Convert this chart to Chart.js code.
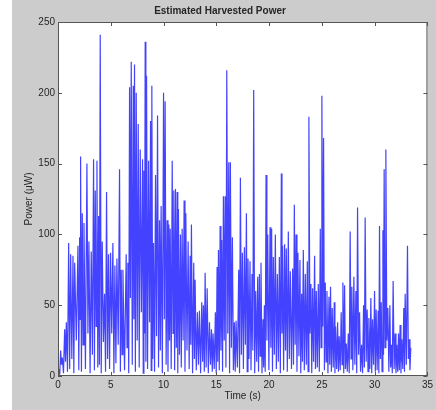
<!DOCTYPE html>
<html>
<head>
<meta charset="utf-8">
<script src="https://cdn.jsdelivr.net/npm/chart.js@4.4.1/dist/chart.umd.min.js"></script>
<style>
  html, body { margin: 0; padding: 0; background: #ffffff; }
  #wrap { width: 436px; height: 410px; }
</style>
</head>
<body>
<div id="wrap"><canvas id="chart" width="436" height="410"></canvas></div>
<script>
// peaks of the harvested power trace (time in s, power in uW)
const peakTimes = [
  0.09, 0.25, 0.41, 0.63, 0.79, 1.01, 1.20, 1.42, 1.58, 1.89,
  2.05, 2.14, 2.30, 2.46, 2.74, 2.93, 3.15, 3.37, 3.53, 3.69,
  3.85, 4.00, 4.19, 4.41, 4.60, 4.79, 4.98, 5.20, 5.39, 5.58,
  5.83, 5.99, 6.15, 6.46, 6.62, 6.78, 6.94, 7.13, 7.25, 7.41,
  7.60, 7.79, 8.01, 8.14, 8.26, 8.39, 8.58, 8.77, 8.89, 9.05,
  9.24, 9.43, 9.62, 9.77, 10.00, 10.15, 10.34, 10.50, 10.63, 10.82,
  10.97, 11.13, 11.29, 11.41, 11.60, 11.76, 11.95, 12.11, 12.33, 12.52,
  12.64, 12.86, 12.99, 13.21, 13.40, 13.62, 13.78, 13.94, 14.13, 14.35,
  14.54, 14.69, 14.91, 15.07, 15.20, 15.36, 15.51, 15.67, 15.83, 15.99,
  16.18, 16.33, 16.52, 16.71, 16.87, 17.12, 17.28, 17.47, 17.66, 17.85,
  18.00, 18.19, 18.38, 18.54, 18.73, 18.92, 19.08, 19.23, 19.42, 19.55,
  19.71, 19.87, 20.09, 20.24, 20.40, 20.59, 20.78, 20.97, 21.16, 21.28,
  21.47, 21.63, 21.82, 22.01, 22.23, 22.39, 22.55, 22.73, 22.92, 23.08,
  23.24, 23.43, 23.62, 23.77, 23.96, 24.12, 24.31, 24.47, 24.66, 24.85,
  25.00, 25.16, 25.32, 25.48, 25.67, 25.82, 25.98, 26.17, 26.30, 26.49,
  26.64, 26.83, 26.99, 27.15, 27.31, 27.50, 27.68, 27.84, 28.03, 28.22,
  28.38, 28.57, 28.76, 28.95, 29.10, 29.29, 29.45, 29.64, 29.80, 29.99,
  30.14, 30.33, 30.46, 30.62, 30.78, 30.90, 31.06, 31.25, 31.44, 31.59,
  31.75, 31.94, 32.10, 32.26, 32.41, 32.57, 32.76, 32.89, 33.11, 33.27,
  33.42
];
const peakValues = [
  5, 18, 13, 33, 38, 94, 86, 85, 80, 92,
  98, 155, 115, 108, 150, 95, 88, 153, 131, 152,
  113, 241, 95, 58, 130, 86, 87, 94, 78, 83,
  146, 75, 75, 86, 80, 204, 222, 205, 220, 200,
  178, 160, 153, 145, 236, 212, 152, 180, 205, 94,
  142, 184, 110, 120, 200, 194, 110, 107, 104, 152,
  131, 132, 130, 118, 100, 104, 124, 115, 95, 85,
  107, 80, 68, 45, 46, 52, 50, 73, 62, 38,
  33, 30, 45, 77, 89, 106, 96, 127, 127, 216,
  151, 151, 98, 38, 39, 75, 140, 87, 91, 115,
  83, 81, 72, 202, 60, 70, 72, 80, 40, 50,
  142, 100, 105, 104, 84, 100, 72, 84, 143, 92,
  93, 90, 102, 74, 76, 121, 100, 87, 82, 58,
  89, 72, 81, 183, 65, 62, 85, 60, 65, 104,
  198, 168, 66, 60, 56, 63, 48, 52, 35, 38,
  28, 45, 66, 64, 23, 30, 102, 63, 70, 60,
  119, 45, 22, 50, 112, 47, 41, 55, 40, 60,
  47, 46, 106, 52, 103, 146, 160, 48, 50, 22,
  67, 30, 22, 30, 36, 26, 48, 58, 92, 26,
  20
];
// minima between consecutive peaks
const troughValues = [
  1, 8, 2, 10, 3, 5, 12, 2, 25, 4,
  40, 3, 22, 5, 30, 2, 15, 4, 35, 6,
  8, 2, 24, 3, 12, 5, 30, 2, 9, 22,
  3, 15, 4, 20, 2, 55, 8, 40, 3, 25,
  6, 45, 2, 30, 10, 5, 38, 4, 12, 3,
  28, 6, 18, 2, 40, 8, 3, 25, 5, 30,
  4, 20, 2, 15, 6, 25, 3, 18, 5, 22,
  2, 12, 4, 8, 2, 10, 3, 6, 2, 8,
  3, 5, 2, 10, 4, 18, 3, 25, 6, 30,
  2, 20, 4, 3, 6, 2, 15, 5, 22, 3,
  12, 4, 18, 2, 10, 3, 14, 2, 6, 3,
  25, 4, 20, 3, 15, 5, 10, 2, 30, 4,
  18, 3, 12, 5, 8, 22, 3, 14, 2, 10,
  4, 8, 3, 30, 2, 10, 5, 6, 3, 20,
  35, 4, 10, 2, 8, 3, 6, 2, 5, 3,
  4, 8, 2, 5, 3, 2, 12, 4, 8, 2,
  15, 3, 2, 6, 10, 3, 5, 2, 8, 3,
  4, 2, 12, 3, 15, 20, 25, 3, 6, 2,
  5, 2, 3, 4, 2, 5, 3, 8, 12, 4
];
const xTicks = [0, 5, 10, 15, 20, 25, 30, 35];
const yTicks = [0, 50, 100, 150, 200, 250];

const points = [{ x: 0, y: 0 }];
peakTimes.forEach((t, i) => {
  points.push({ x: t, y: peakValues[i] });
  if (i < peakTimes.length - 1) {
    points.push({ x: (t + peakTimes[i + 1]) / 2, y: troughValues[i] });
  }
});

const textColor = '#262626';
const boxColor = '#555555';
const fontFamily = '"Liberation Sans", Arial, sans-serif';

// grey figure background with the white strip on the left, white axes area
const figureBg = {
  id: 'figureBg',
  beforeDraw(chart) {
    const { ctx, chartArea: a } = chart;
    ctx.save();
    ctx.fillStyle = '#cccccc';
    ctx.fillRect(12, 0, chart.width - 12, chart.height);
    ctx.fillStyle = '#ffffff';
    ctx.fillRect(a.left, a.top, a.right - a.left, a.bottom - a.top);
    ctx.restore();
  },
  afterDraw(chart) {
    const { ctx, chartArea: a, scales } = chart;
    ctx.save();
    ctx.strokeStyle = boxColor;
    ctx.lineWidth = 1;
    ctx.strokeRect(a.left + 0.5, a.top + 0.5, a.right - a.left - 1, a.bottom - a.top - 1);
    ctx.beginPath();
    xTicks.forEach((v) => {
      const px = Math.round(scales.x.getPixelForValue(v)) + 0.5;
      ctx.moveTo(px, a.bottom);
      ctx.lineTo(px, a.bottom - 4);
      ctx.moveTo(px, a.top);
      ctx.lineTo(px, a.top + 4);
    });
    yTicks.forEach((v) => {
      const py = Math.round(scales.y.getPixelForValue(v)) + 0.5;
      ctx.moveTo(a.left, py);
      ctx.lineTo(a.left + 4, py);
      ctx.moveTo(a.right, py);
      ctx.lineTo(a.right - 4, py);
    });
    ctx.stroke();
    ctx.restore();
  }
};

new Chart(document.getElementById('chart'), {
  type: 'line',
  data: {
    datasets: [{
      data: points,
      borderColor: 'rgba(0, 0, 255, 0.74)',
      borderWidth: 1.2,
      pointRadius: 0,
      tension: 0,
      fill: false
    }]
  },
  options: {
    responsive: false,
    animation: false,
    layout: { padding: { left: 12, right: 8, top: 0, bottom: 0 } },
    plugins: {
      legend: { display: false },
      tooltip: { enabled: false },
      title: {
        display: true,
        text: 'Estimated Harvested Power',
        color: textColor,
        font: { family: fontFamily, size: 10, weight: 'bold' },
        padding: { top: 5, bottom: 5 }
      }
    },
    scales: {
      x: {
        type: 'linear',
        min: 0,
        max: 35,
        afterBuildTicks: (scale) => { scale.ticks = xTicks.map((v) => ({ value: v })); },
        afterFit: (scale) => { scale.height = 34; },
        grid: { display: false, drawTicks: false },
        border: { display: false },
        ticks: { color: textColor, padding: 3, maxRotation: 0, font: { family: fontFamily, size: 10 } },
        title: {
          display: true,
          text: 'Time (s)',
          color: textColor,
          font: { family: fontFamily, size: 10 },
          padding: { top: 0, bottom: 8 }
        }
      },
      y: {
        min: 0,
        max: 250,
        afterBuildTicks: (scale) => { scale.ticks = yTicks.map((v) => ({ value: v })); },
        afterFit: (scale) => { scale.width = 46; },
        grid: { display: false, drawTicks: false },
        border: { display: false },
        ticks: { color: textColor, padding: 3, font: { family: fontFamily, size: 10 } },
        title: {
          display: true,
          text: 'Power (μW)',
          color: textColor,
          font: { family: fontFamily, size: 10 },
          padding: { top: 11, bottom: 0 }
        }
      }
    }
  },
  plugins: [figureBg]
});
</script>
</body>
</html>
